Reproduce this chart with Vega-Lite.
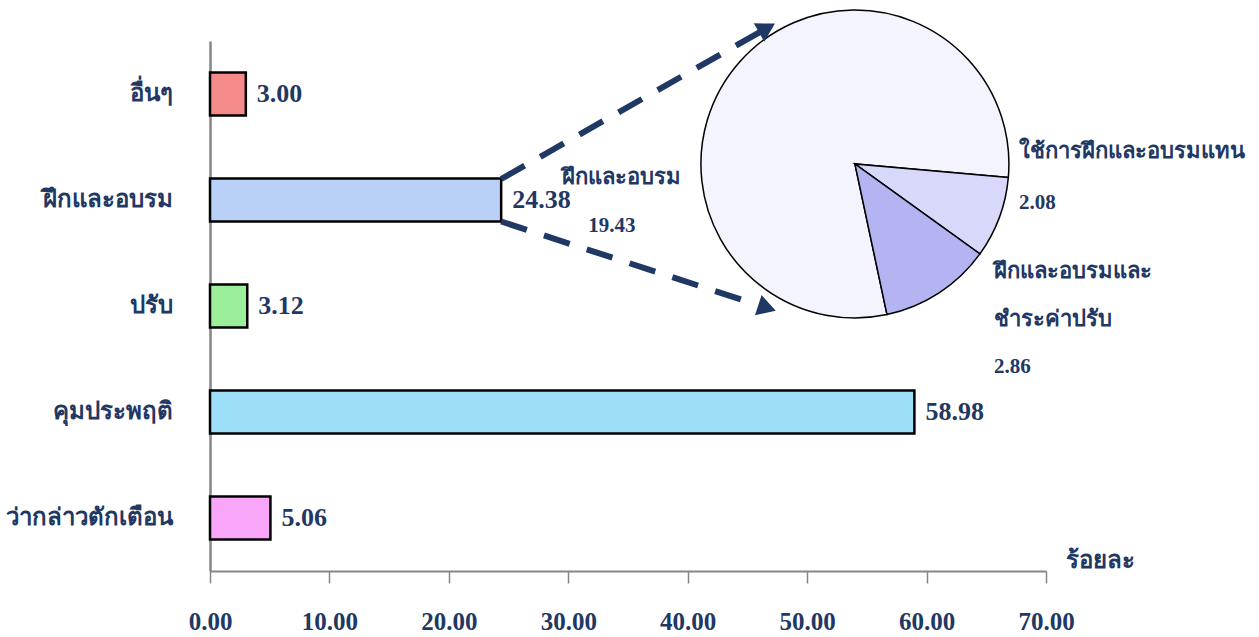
{
  "$schema": "https://vega.github.io/schema/vega-lite/v6.json",
  "autosize": {"type": "none"},
  "width": 836,
  "height": 530,
  "padding": {"left": 210, "top": 41, "right": 213, "bottom": 66},
  "background": "white",
  "config": {"view": {"stroke": null}, "font": "Liberation Serif"},
  "datasets": {
    "measures": [
      {"category": "อื่นๆ", "percent": 3.00},
      {"category": "ฝึกและอบรม", "percent": 24.38},
      {"category": "ปรับ", "percent": 3.12},
      {"category": "คุมประพฤติ", "percent": 58.98},
      {"category": "ว่ากล่าวตักเตือน", "percent": 5.06}
    ],
    "training": [
      {"type": "ฝึกและอบรม", "percent": 19.43},
      {"type": "ใช้การฝึกและอบรมแทน", "percent": 2.08},
      {"type": "ฝึกและอบรมและ\nชำระค่าปรับ", "percent": 2.86}
    ]
  },
  "layer": [
    {
      "data": {"name": "measures"},
      "encoding": {
        "y": {
          "field": "category", "type": "nominal", "sort": null,
          "scale": {"paddingInner": 0.594, "paddingOuter": 0.297},
          "axis": {
            "title": null, "ticks": false, "domainColor": "#868686", "domainWidth": 2.5,
            "labelFont": "Liberation Serif", "labelFontSize": 24, "labelFontWeight": "bold",
            "labelColor": "#1F3864", "labelPadding": 38, "labelLimit": 400
          }
        },
        "x": {
          "field": "percent", "type": "quantitative",
          "scale": {"domain": [0, 70], "nice": false},
          "axis": {
            "values": [0, 10, 20, 30, 40, 50, 60, 70], "format": ".2f", "grid": false,
            "domainColor": "#868686", "domainWidth": 2, "tickColor": "#868686", "tickWidth": 1.5,
            "tickSize": 12, "labelFont": "Liberation Serif", "labelFontSize": 25,
            "labelFontWeight": "bold", "labelColor": "#1F3864", "labelPadding": 26, "labelFlush": false,
            "title": "ร้อยละ", "titleX": 890, "titleY": -11, "titleAlign": "center",
            "titleBaseline": "middle", "titleFontSize": 24, "titleFontWeight": "bold",
            "titleColor": "#1F3864", "titleFont": "Liberation Serif"
          }
        }
      },
      "layer": [
        {
          "mark": {"type": "bar", "stroke": "black", "strokeWidth": 2.5},
          "encoding": {
            "color": {
              "field": "category", "type": "nominal", "legend": null,
              "scale": {
                "domain": ["อื่นๆ", "ฝึกและอบรม", "ปรับ", "คุมประพฤติ", "ว่ากล่าวตักเตือน"],
                "range": ["#F58A8A", "#B9D0F7", "#9BEF9B", "#9CDDF7", "#F9A6F9"]
              }
            }
          }
        },
        {
          "mark": {"type": "text", "align": "left", "baseline": "middle", "dx": 11, "fontSize": 26, "fontWeight": "bold", "color": "#1F3864", "font": "Liberation Serif"},
          "encoding": {"text": {"field": "percent", "type": "quantitative", "format": ".2f"}}
        }
      ]
    },
    {
      "data": {"name": "training"},
      "encoding": {
        "x": {"datum": 54.0, "type": "quantitative"},
        "y": {"datum": 0.768, "type": "quantitative", "scale": {"domain": [0, 1], "nice": false, "zero": false}, "axis": null}
      },
      "layer": [
        {
          "mark": {"type": "arc", "radius": 154, "stroke": "black", "strokeWidth": 1.5},
          "encoding": {
            "theta": {"field": "percent", "type": "quantitative", "stack": true, "scale": {"range": [1.6581, 7.9413]}},
            "order": {"field": "percent", "type": "quantitative", "sort": "ascending"},
            "color": {
              "field": "type", "type": "nominal", "legend": null,
              "scale": {
                "domain": ["ฝึกและอบรม", "ใช้การฝึกและอบรมแทน", "ฝึกและอบรมและ\nชำระค่าปรับ"],
                "range": ["#F4F4FE", "#D8D8FA", "#B4B4F2"]
              }
            }
          }
        },
        {
          "transform": [{"filter": {"field": "type", "equal": "ฝึกและอบรม"}}],
          "mark": {"type": "text", "align": "center", "baseline": "middle", "dx": -233, "dy": 13, "fontSize": 22, "fontWeight": "bold", "color": "#1F3864", "font": "Liberation Serif"},
          "encoding": {"text": {"field": "type", "type": "nominal"}}
        },
        {
          "transform": [{"filter": {"field": "type", "equal": "ฝึกและอบรม"}}],
          "mark": {"type": "text", "align": "center", "baseline": "middle", "dx": -243, "dy": 62, "fontSize": 21, "fontWeight": "bold", "color": "#1F3864", "font": "Liberation Serif"},
          "encoding": {"text": {"field": "percent", "type": "quantitative", "format": ".2f"}}
        },
        {
          "transform": [{"filter": {"field": "type", "equal": "ใช้การฝึกและอบรมแทน"}}],
          "mark": {"type": "text", "align": "left", "baseline": "middle", "dx": 164, "dy": -13, "fontSize": 22, "fontWeight": "bold", "color": "#1F3864", "font": "Liberation Serif"},
          "encoding": {"text": {"field": "type", "type": "nominal"}}
        },
        {
          "transform": [{"filter": {"field": "type", "equal": "ใช้การฝึกและอบรมแทน"}}],
          "mark": {"type": "text", "align": "left", "baseline": "middle", "dx": 164, "dy": 39, "fontSize": 21, "fontWeight": "bold", "color": "#1F3864", "font": "Liberation Serif"},
          "encoding": {"text": {"field": "percent", "type": "quantitative", "format": ".2f"}}
        },
        {
          "transform": [{"filter": {"field": "type", "equal": "ฝึกและอบรมและ\nชำระค่าปรับ"}}],
          "mark": {"type": "text", "align": "left", "baseline": "middle", "dx": 139, "dy": 107, "lineBreak": "\n", "lineHeight": 48, "fontSize": 22, "fontWeight": "bold", "color": "#1F3864", "font": "Liberation Serif"},
          "encoding": {"text": {"field": "type", "type": "nominal"}}
        },
        {
          "transform": [{"filter": {"field": "type", "equal": "ฝึกและอบรมและ\nชำระค่าปรับ"}}],
          "mark": {"type": "text", "align": "left", "baseline": "middle", "dx": 139, "dy": 203, "fontSize": 21, "fontWeight": "bold", "color": "#1F3864", "font": "Liberation Serif"},
          "encoding": {"text": {"field": "percent", "type": "quantitative", "format": ".2f"}}
        },
        {
          "data": {"values": [{}]},
          "mark": {"type": "rule", "color": "#1F3864", "strokeWidth": 6, "strokeDash": [27, 18]},
          "encoding": {
            "x": {"datum": 24.38, "type": "quantitative"},
            "y": {"datum": 0.7396, "type": "quantitative"},
            "x2": {"datum": 46.05},
            "y2": {"datum": 1.017}
          }
        },
        {
          "data": {"values": [{}]},
          "mark": {"type": "rule", "color": "#1F3864", "strokeWidth": 6, "strokeDash": [27, 18]},
          "encoding": {
            "x": {"datum": 24.38, "type": "quantitative"},
            "y": {"datum": 0.6594, "type": "quantitative"},
            "x2": {"datum": 45.88},
            "y2": {"datum": 0.5019}
          }
        },
        {
          "data": {"values": [{}]},
          "mark": {"type": "point", "shape": "triangle-right", "filled": true, "color": "#1F3864", "size": 450, "opacity": 1, "angle": -29.6},
          "encoding": {
            "x": {"datum": 46.64, "type": "quantitative"},
            "y": {"datum": 1.0245, "type": "quantitative"}
          }
        },
        {
          "data": {"values": [{}]},
          "mark": {"type": "point", "shape": "triangle-right", "filled": true, "color": "#1F3864", "size": 450, "opacity": 1, "angle": 18.1},
          "encoding": {
            "x": {"datum": 46.64, "type": "quantitative"},
            "y": {"datum": 0.4962, "type": "quantitative"}
          }
        }
      ]
    }
  ],
  "resolve": {"scale": {"y": "independent", "color": "independent"}}
}
